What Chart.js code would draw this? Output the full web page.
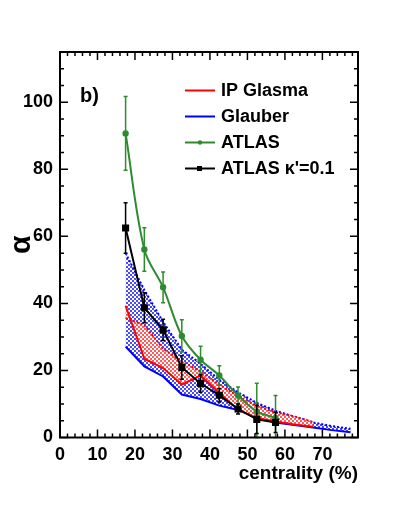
<!DOCTYPE html>
<html>
<head>
<meta charset="utf-8">
<script src="https://cdn.jsdelivr.net/npm/chart.js@4/dist/chart.umd.min.js"></script>
<style>
body { margin: 0; background: #fff; }
</style>
</head>
<body>
<canvas id="chart" width="399" height="516"></canvas>
<script>
// measured centralities (%)
const centAtlas = [17.5, 22.5, 27.5, 32.5, 37.5, 42.5, 47.5, 52.5, 57.5];
const atlas = [90.7, 56.1, 44.8, 30.3, 23.2, 18.5, 12.5, 7.8, 5.8];
const atlasErr = [11, 6.5, 4.6, 4.8, 4, 2.9, 2.6, 8.4, 6.7];
const atlasK = [62.5, 38.7, 32.1, 20.9, 16.1, 12.6, 8.5, 5.4, 4.5];
const atlasKErr = [7.5, 4.5, 3.2, 3.5, 2.6, 2, 1.5, 4.2, 3];

// model bands
const centModel = [17.5, 22.5, 27.5, 32.5, 37.5, 42.5, 47.5, 52.5, 57.5, 62.5, 67.5, 72.5, 77.5];
const glauberLow = [27.1, 21.2, 18.2, 12.8, 11.5, 9.5, 8.2, 6.0, 4.5, 3.7, 3.0, 2.2, 1.6];
const glauberHigh = [55.0, 44.0, 34.5, 26.2, 22.0, 17.2, 13.5, 10.3, 8.0, 6.2, 4.5, 3.4, 2.6];
const ipLow = [39.3, 23.5, 20.7, 15.8, 18.5, 13.3, 8.3, 5.8, 4.8, 3.9, 3.2];
const ipHigh = [35.7, 33.5, 26.5, 22.7, 19.7, 15.8, 12.3, 9.5, 7.5, 6.3, 4.6];

const xTicks = [0, 10, 20, 30, 40, 50, 60, 70];
const yTicks = [0, 20, 40, 60, 80, 100];
const legendLabels = ['IP Glasma', 'Glauber', 'ATLAS', "ATLAS \u03BA'=0.1"];

const RED = '#ff0000', BLUE = '#0000ff', GREEN = '#2e8b2e', BLACK = '#000000';
const FONT = '"Liberation Sans", Arial, Helvetica, sans-serif';

const pts = (xs, ys) => ys.map((v, i) => ({ x: xs[i], y: v }));

const ctx = document.getElementById('chart').getContext('2d');
function checker(color) {
    const c = document.createElement('canvas');
    c.width = 4; c.height = 4;
    const g = c.getContext('2d');
    g.fillStyle = '#fff';
    g.fillRect(0, 0, 4, 4);
    g.fillStyle = color;
    g.fillRect(0, 0, 2, 2);
    g.fillRect(2, 2, 2, 2);
    return ctx.createPattern(c, 'repeat');
}

const errorBars = {
    id: 'errorBars',
    afterDatasetDraw(chart, args) {
        const ds = chart.data.datasets[args.index];
        if (!ds.errors) return;
        const y = chart.scales.y, c = chart.ctx;
        c.save();
        c.strokeStyle = ds.borderColor;
        c.lineWidth = 1.5;
        args.meta.data.forEach((pt, i) => {
            const v = ds.data[i].y, e = ds.errors[i];
            const top = y.getPixelForValue(v + e);
            const bot = y.getPixelForValue(Math.max(v - e, 0));
            c.beginPath();
            c.moveTo(pt.x, top); c.lineTo(pt.x, bot);
            c.moveTo(pt.x - 2, top); c.lineTo(pt.x + 2, top);
            c.moveTo(pt.x - 2, bot); c.lineTo(pt.x + 2, bot);
            c.stroke();
        });
        c.restore();
    }
};

const frame = {
    id: 'frame',
    afterDraw(chart) {
        const { left, right, top, bottom } = chart.chartArea;
        const xs = chart.scales.x, ys = chart.scales.y, c = chart.ctx;
        c.save();
        c.strokeStyle = '#000';
        c.lineWidth = 1.5;
        c.beginPath();
        for (let v = 0; v <= xs.max; v += 2) {
            const p = xs.getPixelForValue(v);
            const len = v % 10 === 0 ? 8 : 4;
            c.moveTo(p, bottom); c.lineTo(p, bottom - len);
            c.moveTo(p, top); c.lineTo(p, top + len);
        }
        for (let v = 0; v <= ys.max; v += 5) {
            const p = ys.getPixelForValue(v);
            const len = v % 20 === 0 ? 8 : 4;
            c.moveTo(left, p); c.lineTo(left + len, p);
            c.moveTo(right, p); c.lineTo(right - len, p);
        }
        c.stroke();
        c.lineWidth = 2;
        c.strokeRect(left, top, right - left, bottom - top);

        // panel label
        c.fillStyle = '#000';
        c.font = 'bold 20px ' + FONT;
        c.textBaseline = 'middle';
        c.textAlign = 'left';
        c.fillText('b)', 80, 96);

        // legend
        const colors = [RED, BLUE, GREEN, BLACK];
        c.font = 'bold 18px ' + FONT;
        legendLabels.forEach((lab, i) => {
            const y = 90.5 + i * 26;
            c.strokeStyle = colors[i];
            c.lineWidth = 2;
            c.beginPath(); c.moveTo(185, y); c.lineTo(215, y); c.stroke();
            c.fillStyle = colors[i];
            if (i === 2) { c.beginPath(); c.arc(200, y, 2.2, 0, Math.PI * 2); c.fill(); }
            if (i === 3) { c.fillRect(197, y - 2.5, 5, 5); }
            c.fillStyle = '#000';
            c.fillText(lab, 221, y + 1);
        });
        c.restore();
    }
};

new Chart(ctx, {
    type: 'line',
    data: {
        datasets: [
            {
                label: "ATLAS \u03BA'=0.1",
                data: pts(centAtlas, atlasK),
                errors: atlasKErr,
                borderColor: BLACK, backgroundColor: BLACK,
                borderWidth: 2, pointStyle: 'rect', pointRadius: 3.6,
                fill: false, order: 0
            },
            {
                label: 'ATLAS',
                data: pts(centAtlas, atlas),
                errors: atlasErr,
                borderColor: GREEN, backgroundColor: GREEN,
                borderWidth: 2, pointRadius: 2.2, tension: 0.35,
                fill: false, order: 1
            },
            {
                label: 'IP Glasma low',
                data: pts(centModel, ipLow),
                borderColor: RED, borderWidth: 2, pointRadius: 0,
                fill: false, order: 2
            },
            {
                label: 'IP Glasma high',
                data: pts(centModel, ipHigh),
                borderColor: RED, borderWidth: 2, borderDash: [2, 2], pointRadius: 0,
                backgroundColor: checker('#ff5a5a'),
                fill: '-1', order: 3
            },
            {
                label: 'Glauber low',
                data: pts(centModel, glauberLow),
                borderColor: BLUE, borderWidth: 2, pointRadius: 0,
                fill: false, order: 4
            },
            {
                label: 'Glauber high',
                data: pts(centModel, glauberHigh),
                borderColor: BLUE, borderWidth: 2, borderDash: [2, 2], pointRadius: 0,
                backgroundColor: checker('#4a4aff'),
                fill: '-1', order: 5
            }
        ]
    },
    options: {
        responsive: false,
        animation: false,
        layout: { padding: { left: 0, right: 41, top: 52, bottom: 0 } },
        plugins: { legend: { display: false }, tooltip: { enabled: false } },
        scales: {
            x: {
                type: 'linear', min: 0, max: 79.5,
                grid: { display: false, drawTicks: false },
                border: { display: false },
                afterBuildTicks: s => { s.ticks = xTicks.map(v => ({ value: v })); },
                afterFit: s => { s.height = 78.5; },
                ticks: { padding: 7, color: '#000', maxRotation: 0, autoSkip: false,
                         font: { family: FONT, size: 18, weight: 'bold' } },
                title: { display: true, text: 'centrality (%)', align: 'end', color: '#000',
                         padding: { top: 0, bottom: 31 },
                         font: { family: FONT, size: 19, weight: 'bold' } }
            },
            y: {
                min: 0, max: 115,
                grid: { display: false, drawTicks: false },
                border: { display: false },
                afterBuildTicks: s => { s.ticks = yTicks.map(v => ({ value: v })); },
                afterFit: s => { s.width = 60; },
                ticks: { padding: 7, color: '#000',
                         font: { family: FONT, size: 18, weight: 'bold' } },
                title: { display: true, text: '\u03B1', color: '#000',
                         padding: { top: 4, bottom: 0 },
                         font: { family: FONT, size: 30, weight: 'bold' } }
            }
        }
    },
    plugins: [errorBars, frame]
});
</script>
</body>
</html>
